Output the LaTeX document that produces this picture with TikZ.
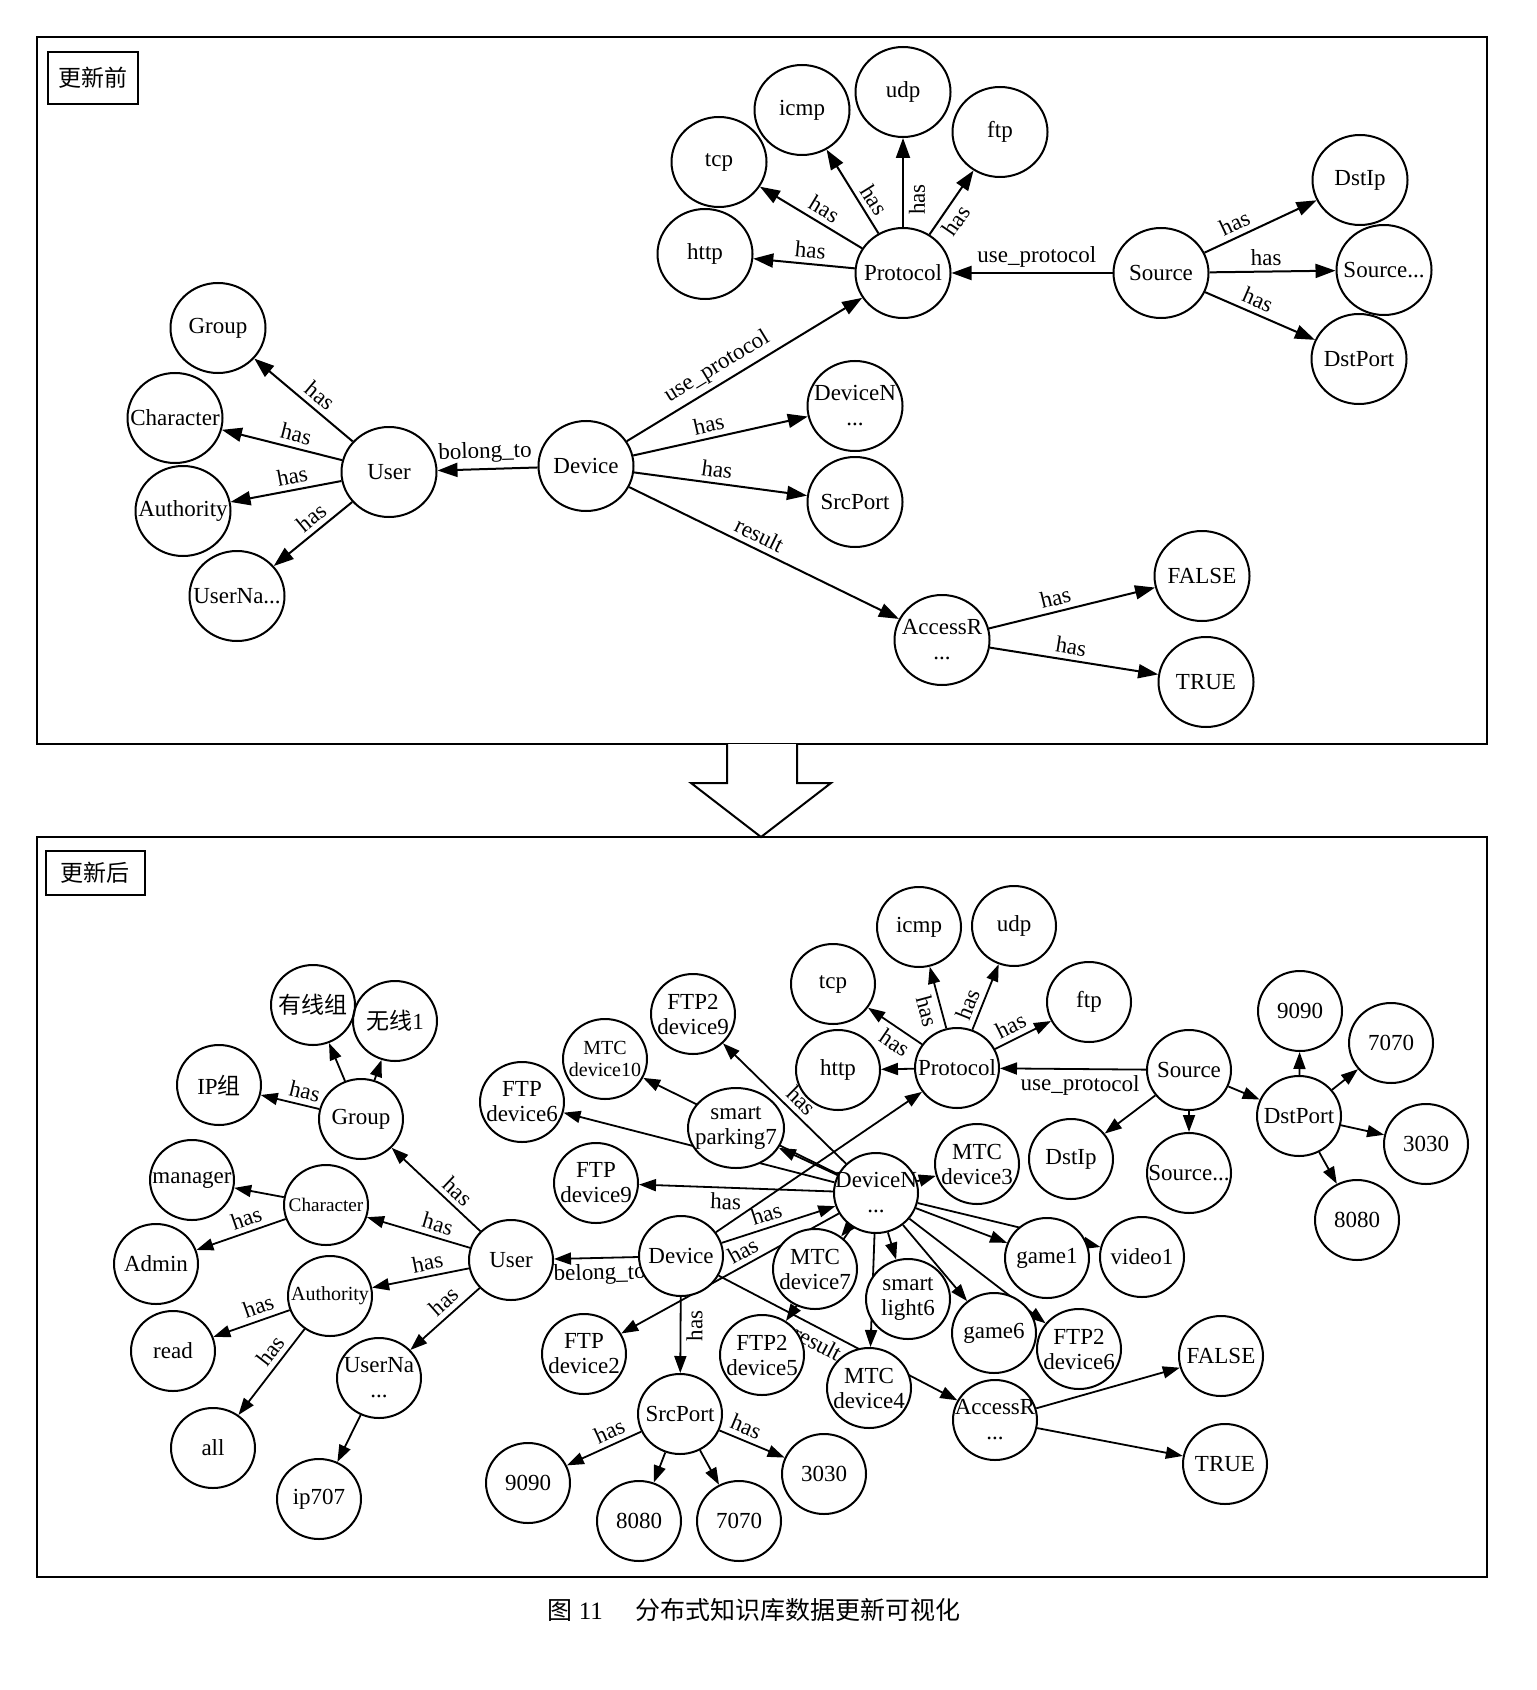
\documentclass[tikz,border=0pt]{standalone}
\usepackage{fontspec}
\setmainfont{Liberation Serif}
\newfontfamily\cjk{Noto Sans CJK SC}
\usetikzlibrary{arrows.meta, shapes.geometric, backgrounds}

\begin{document}
\begin{tikzpicture}[x=0.5pt,y=-0.5pt,
    every node/.style={font=\fontsize{11.5}{12.5}\selectfont},
    ent/.style={ellipse, draw, line width=1pt, fill=white, align=center,
        inner xsep=-12pt, inner ysep=0pt, minimum width=47.5pt, minimum height=45pt},
    sent/.style={ent, minimum width=42pt, minimum height=40pt},
    rel/.style={line width=1pt, -{Triangle[length=10pt,width=7pt]}},
    srel/.style={line width=0.9pt, -{Triangle[length=8.5pt,width=6pt]}},
    lab/.style={sloped, inner sep=2.5pt},
    tag/.style={draw, line width=1pt, inner sep=0pt}]

    \useasboundingbox (0,0) rectangle (1536,1690);

    %--------------------------------
    % 更新前: nodes
    %--------------------------------
    \node[tag, minimum width=45pt, minimum height=26pt] (before) at (93,78) {\cjk 更新前};

    \foreach \n/\x/\y/\t in {
        aGroup/218/328/Group, aChar/175/418/Character, aAuth/183/511/Authority,
        aUserNa/237/596/{UserNa...}, aUser/389/472/User, aDevice/586/466/Device,
        atcp/719/162/tcp, aicmp/802/110/icmp, audp/903/92/udp, aftp/1000/132/ftp,
        ahttp/705/254/http, aProtocol/903/273/Protocol, aSource/1161/273/Source,
        aDstIp/1360/180/DstIp, aSrcDot/1384/270/{Source...}, aDstPort/1359/359/DstPort,
        aDevN/855/406/{DeviceN\\...}, aSrcPort/855/502/SrcPort,
        aAccess/942/640/{AccessR\\...}, aFalse/1202/576/FALSE, aTrue/1206/682/TRUE}{
        \node[ent] (\n) at (\x,\y) {\t};
    }

    %--------------------------------
    % 更新后: nodes
    %--------------------------------
    \node[tag, minimum width=49.5pt, minimum height=22pt] (after) at (95,873) {\cjk 更新后};

    \node[sent, fill=none] (bWired) at (313,1005) {\cjk 有线组};
    \node[sent, fill=none] (bWireless) at (395,1021) {{\cjk 无线}1};
    \node[sent] (bIPg) at (219,1085) {IP{\cjk 组}};
    \node[sent, font=\fontsize{9.6}{11}\selectfont] (bChar) at (326,1205) {Character};
    \node[sent, font=\fontsize{10}{11}\selectfont] (bAuth) at (330,1296) {Authority};
    \node[sent, font=\fontsize{10}{11}\selectfont] (bMtc10) at (605,1059) {MTC\\device10};
    \node[sent, minimum width=48pt] (bPark) at (736,1128) {smart\\parking7};

    \foreach \n/\x/\y/\t in {
        bGroup/361/1119/Group, bManager/192/1180/manager, bAdmin/156/1264/Admin,
        bRead/173/1351/read, bAll/213/1448/all, bUserNa/379/1378/{UserNa\\...},
        bIp707/319/1499/ip707, bUser/511/1260/User, bDevice/681/1256/Device,
        bFtp6/522/1102/{FTP\\device6}, bFtpb9/693/1014/{FTP2\\device9},
        bFtp9/596/1183/{FTP\\device9},
        bDevN/876/1193/{DeviceN\\...}, bMtc3/977/1164/{MTC\\device3},
        bDstIp/1071/1159/DstIp, bSrcDot/1189/1173/{Source...}, bSource/1189/1070/Source,
        bDstPort/1299/1116/DstPort, bP9090/1300/1011/9090, bP7070/1391/1043/7070,
        bP3030/1426/1144/3030, bP8080/1357/1220/8080,
        btcp/833/984/tcp, bicmp/919/927/icmp, budp/1014/926/udp, bftp/1089/1002/ftp,
        bhttp/838/1070/http, bProtocol/957/1068/Protocol,
        bGame1/1047/1258/game1, bVideo1/1142/1257/video1, bLight/908/1299/{smart\\light6},
        bGame6/994/1333/game6, bFtpb6/1079/1349/{FTP2\\device6}, bMtc7/815/1269/{MTC\\device7},
        bFtpb5/762/1355/{FTP2\\device5}, bMtc4/869/1388/{MTC\\device4},
        bFtp2/584/1354/{FTP\\device2}, bSrcPort/680/1414/SrcPort,
        bS9090/528/1483/9090, bS8080/639/1521/8080, bS7070/739/1521/7070, bS3030/824/1474/3030,
        bAccess/995/1420/{AccessR\\...}, bFalse/1221/1356/FALSE, bTrue/1225/1464/TRUE}{
        \node[sent] (\n) at (\x,\y) {\t};
    }

    \begin{scope}[on background layer]
    % frames and the arrow between them
    \draw[line width=1pt] (37,37) rectangle (1487,744);
    \draw[line width=1pt] (37,837) rectangle (1487,1577);
    \draw[line width=1pt, fill=white] (727,744) -- (727,783) -- (691,783) -- (761,837)
        -- (831,783) -- (797,783) -- (797,744);

    %--------------------------------
    % 更新前: edges
    %--------------------------------
    \draw[rel] (aUser) -- node[lab, above, pos=0.42] {has} (aGroup);
    \draw[rel] (aUser) -- node[lab, above, pos=0.41] {has} (aChar);
    \draw[rel] (aUser) -- node[lab, above, pos=0.42] {has} (aAuth);
    \draw[rel] (aUser) -- node[lab, above, pos=0.41] {has} (aUserNa);
    \draw[rel] (aDevice) -- node[lab, above, pos=0.52] {bolong\_to} (aUser);
    \draw[rel] (aDevice) -- node[lab, above, pos=0.42] {use\_protocol} (aProtocol);
    \draw[rel] (aDevice) -- node[lab, above, pos=0.45] {has} (aDevN);
    \draw[rel] (aDevice) -- node[lab, above, pos=0.47] {has} (aSrcPort);
    \draw[rel] (aDevice) -- node[lab, above, pos=0.46] {result} (aAccess);
    \draw[rel] (aProtocol) -- node[lab, above, pos=0.45] {has} (ahttp);
    \draw[rel] (aProtocol) -- node[lab, above, pos=0.44] {has} (atcp);
    \draw[rel] (aProtocol) -- node[lab, above, pos=0.31] {has} (aicmp);
    \draw[rel] (aProtocol) -- node[lab, below, pos=0.31] {has} (audp);
    \draw[rel] (aProtocol) -- node[lab, below, pos=0.34] {has} (aftp);
    \draw[rel] (aSource) -- node[lab, above, pos=0.47] {use\_protocol} (aProtocol);
    \draw[rel] (aSource) -- node[lab, above, pos=0.32] {has} (aDstIp);
    \draw[rel] (aSource) -- node[lab, above, pos=0.45] {has} (aSrcDot);
    \draw[rel] (aSource) -- node[lab, above, pos=0.43] {has} (aDstPort);
    \draw[rel] (aAccess) -- node[lab, above, pos=0.42] {has} (aFalse);
    \draw[rel] (aAccess) -- node[lab, above, pos=0.47] {has} (aTrue);

    %--------------------------------
    % 更新后: edges
    %--------------------------------
    \draw[srel] (bUser) -- node[lab, above, pos=0.36] {has} (bGroup);
    \draw[srel] (bUser) -- node[lab, above, pos=0.35] {has} (bChar);
    \draw[srel] (bUser) -- node[lab, above, pos=0.40] {has} (bAuth);
    \draw[srel] (bUser) -- node[lab, above, pos=0.38] {has} (bUserNa);
    \draw[srel] (bGroup) -- node[lab, above, pos=0.30] {has} (bIPg);
    \draw[srel] (bChar) -- node[lab, above, pos=0.39] {has} (bAdmin);
    \draw[srel] (bAuth) -- node[lab, above, pos=0.35] {has} (bRead);
    \draw[srel] (bAuth) -- node[lab, above, pos=0.35] {has} (bAll);
    \draw[srel] (bDevice) -- node[lab, below, pos=0.46] {belong\_to} (bUser);
    \draw[srel] (bDevice) -- node[lab, above, pos=0.43] {has} (bDevN);
    \draw[srel] (bDevice) -- node[lab, below, pos=0.38] {has} (bSrcPort);
    \draw[srel] (bDevice) -- node[lab, below, pos=0.44] {result} (bAccess);
    \draw[srel] (bDevN) -- node[lab, above, pos=0.41] {has} (bFtp2);
    \draw[srel] (bDevN) -- node[lab, below, pos=0.55] {has} (bFtp9);
    \draw[srel] (bDevN) -- node[lab, above, pos=0.44] {has} (bFtpb9);
    \draw[srel] (bProtocol) -- node[lab, below, pos=0.36] {has} (btcp);
    \draw[srel] (bProtocol) -- node[lab, below, pos=0.34] {has} (bicmp);
    \draw[srel] (bProtocol) -- node[lab, above, pos=0.31] {has} (budp);
    \draw[srel] (bProtocol) -- node[lab, above, pos=0.39] {has} (bftp);
    \draw[srel] (bSource) -- node[lab, below, pos=0.45] {use\_protocol} (bProtocol);
    \draw[srel] (bSrcPort) -- node[lab, above, pos=0.35] {has} (bS9090);
    \draw[srel] (bSrcPort) -- node[lab, above, pos=0.33] {has} (bS3030);

    \foreach \a/\b in {
        bGroup/bWired, bGroup/bWireless, bChar/bManager, bUserNa/bIp707,
        bDevice/bProtocol, bDevN/bMtc10, bDevN/bFtp6, bDevN/bPark, bDevN/bMtc3,
        bDevN/bGame1, bDevN/bVideo1, bDevN/bGame6, bDevN/bFtpb6, bDevN/bLight,
        bDevN/bMtc4, bDevN/bMtc7, bDevN/bFtpb5, bProtocol/bhttp,
        bSource/bDstIp, bSource/bSrcDot, bSource/bDstPort,
        bDstPort/bP9090, bDstPort/bP7070, bDstPort/bP3030, bDstPort/bP8080,
        bSrcPort/bS8080, bSrcPort/bS7070, bAccess/bFalse, bAccess/bTrue}{
        \draw[srel] (\a) -- (\b);
    }
    \end{scope}

    % caption
    \node[font=\fontsize{12.5}{13}\selectfont] (cap) at (754,1610)
        {{\cjk 图}~11\hspace{1.3em}{\cjk 分布式知识库数据更新可视化}};

\end{tikzpicture}
\end{document}
